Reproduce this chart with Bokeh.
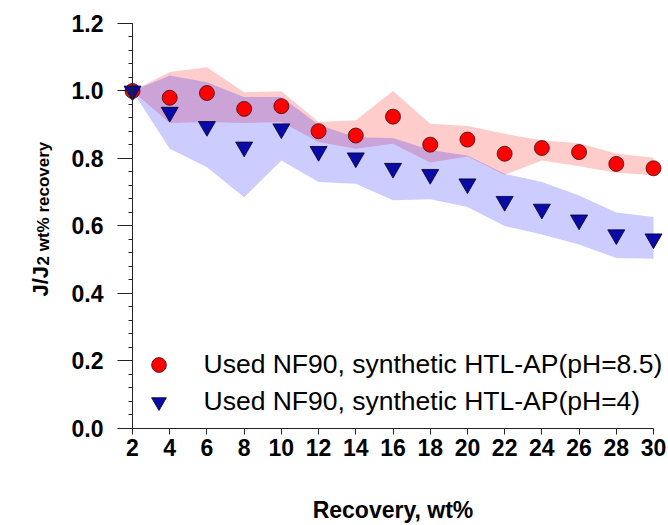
import math
from bokeh.plotting import figure
from bokeh.models import Range1d, FixedTicker, NumeralTickFormatter, Legend, LegendItem, Label
from bokeh.embed import file_html
from bokeh.resources import INLINE

# ---- data ----
recovery = [2, 4, 6, 8, 10, 12, 14, 16, 18, 20, 22, 24, 26, 28, 30]

ph85_mean = [1.000, 0.980, 0.994, 0.947, 0.955, 0.881, 0.868, 0.924, 0.841, 0.856, 0.814, 0.831, 0.819, 0.784, 0.771]
ph85_upper = [1.000, 1.056, 1.070, 0.996, 0.999, 0.908, 0.913, 1.000, 0.903, 0.896, 0.873, 0.854, 0.845, 0.815, 0.802]
ph85_lower = [1.000, 0.905, 0.908, 0.905, 0.908, 0.849, 0.829, 0.844, 0.788, 0.806, 0.752, 0.794, 0.777, 0.758, 0.750]

ph4_mean = [1.000, 0.937, 0.895, 0.834, 0.888, 0.821, 0.802, 0.771, 0.753, 0.725, 0.673, 0.650, 0.618, 0.574, 0.562]
ph4_upper = [1.000, 1.046, 1.026, 0.982, 0.982, 0.900, 0.863, 0.861, 0.825, 0.809, 0.755, 0.730, 0.690, 0.640, 0.627]
ph4_lower = [1.000, 0.829, 0.774, 0.685, 0.794, 0.730, 0.725, 0.676, 0.679, 0.656, 0.600, 0.575, 0.545, 0.505, 0.503]

x_ticks = [2, 4, 6, 8, 10, 12, 14, 16, 18, 20, 22, 24, 26, 28, 30]
y_ticks = [0.0, 0.2, 0.4, 0.6, 0.8, 1.0, 1.2]
y_minor = [round(i * 0.04, 2) for i in range(31)]

label_85 = "Used NF90, synthetic HTL-AP(pH=8.5)"
label_4 = "Used NF90, synthetic HTL-AP(pH=4)"

FONT = "Liberation Sans"
AXIS_COLOR = "#222222"

# the frame fills the whole canvas; axes are pinned at x=2 and y=0
p = figure(width=668, height=525, output_backend="svg", toolbar_location=None,
           x_range=Range1d(-5.094, 30.806), y_range=Range1d(-0.2874, 1.2681),
           min_border_left=0, min_border_right=0, min_border_top=0, min_border_bottom=0)
p.outline_line_color = None
p.xgrid.visible = False
p.ygrid.visible = False
p.background_fill_color = "white"
p.border_fill_color = "white"

# bands
p.varea(x=recovery, y1=ph85_lower, y2=ph85_upper, fill_color="#ff0000", fill_alpha=0.2)
p.varea(x=recovery, y1=ph4_lower, y2=ph4_upper, fill_color="#0000ff", fill_alpha=0.2)

r_red = p.scatter(recovery, ph85_mean, marker="circle", size=15,
                  fill_color="#ff0000", line_color="#3a1010", line_width=0.8)
r_blue = p.scatter(recovery, ph4_mean, marker="inverted_triangle", size=17,
                   fill_color="#0a0aa8", line_color="#000020", line_width=0.8)

# x axis
xa = p.xaxis[0]
xa.fixed_location = 0
xa.ticker = FixedTicker(ticks=x_ticks)
xa.bounds = (x_ticks[0], x_ticks[-1])
xa.major_tick_out = 6
xa.major_tick_in = 0
xa.minor_tick_line_color = None
xa.major_label_text_font = FONT
xa.major_label_text_font_style = "bold"
xa.major_label_text_font_size = "23px"
xa.major_label_text_color = "black"
xa.major_label_standoff = 5
xa.axis_line_color = AXIS_COLOR
xa.major_tick_line_color = AXIS_COLOR
xa.axis_label = "Recovery, wt%"
xa.axis_label_text_font = FONT
xa.axis_label_text_font_style = "bold"
xa.axis_label_text_font_size = "23px"
xa.axis_label_text_color = "black"
xa.axis_label_standoff = 37

# y axis
ya = p.yaxis[0]
ya.fixed_location = x_ticks[0]
ya.ticker = FixedTicker(ticks=y_ticks, minor_ticks=y_minor)
ya.formatter = NumeralTickFormatter(format="0.0")
ya.bounds = (y_ticks[0], y_ticks[-1])
ya.major_tick_out = 15
ya.major_tick_in = 0
ya.minor_tick_out = 4
ya.minor_tick_in = 0
ya.major_label_text_font = FONT
ya.major_label_text_font_style = "bold"
ya.major_label_text_font_size = "23px"
ya.major_label_text_color = "black"
ya.major_label_standoff = 14
ya.axis_line_color = AXIS_COLOR
ya.major_tick_line_color = AXIS_COLOR
ya.minor_tick_line_color = AXIS_COLOR

# y axis title with subscript (screen units from the frame's bottom-left)
p.add_layout(Label(x=40, y=229, x_units="screen", y_units="screen", angle=math.pi / 2,
                   text="J/J", text_font=FONT, text_font_style="bold", text_color="black",
                   text_font_size="22px", text_align="left", text_baseline="alphabetic"))
p.add_layout(Label(x=43, y=260, x_units="screen", y_units="screen", angle=math.pi / 2,
                   text="2 wt% recovery", text_font=FONT, text_font_style="bold", text_color="black",
                   text_font_size="17px", text_align="left", text_baseline="alphabetic"))

legend = Legend(items=[LegendItem(label=label_85, renderers=[r_red]),
                       LegendItem(label=label_4, renderers=[r_blue])],
                location=(139.5, 105.5), padding=0, margin=0, spacing=-4,
                glyph_width=37, glyph_height=37, label_standoff=27,
                label_text_font=FONT, label_text_font_size="26.5px", label_text_color="black",
                border_line_color=None, background_fill_alpha=0)
p.add_layout(legend)

open("out.html", "w").write(file_html(p, INLINE))
